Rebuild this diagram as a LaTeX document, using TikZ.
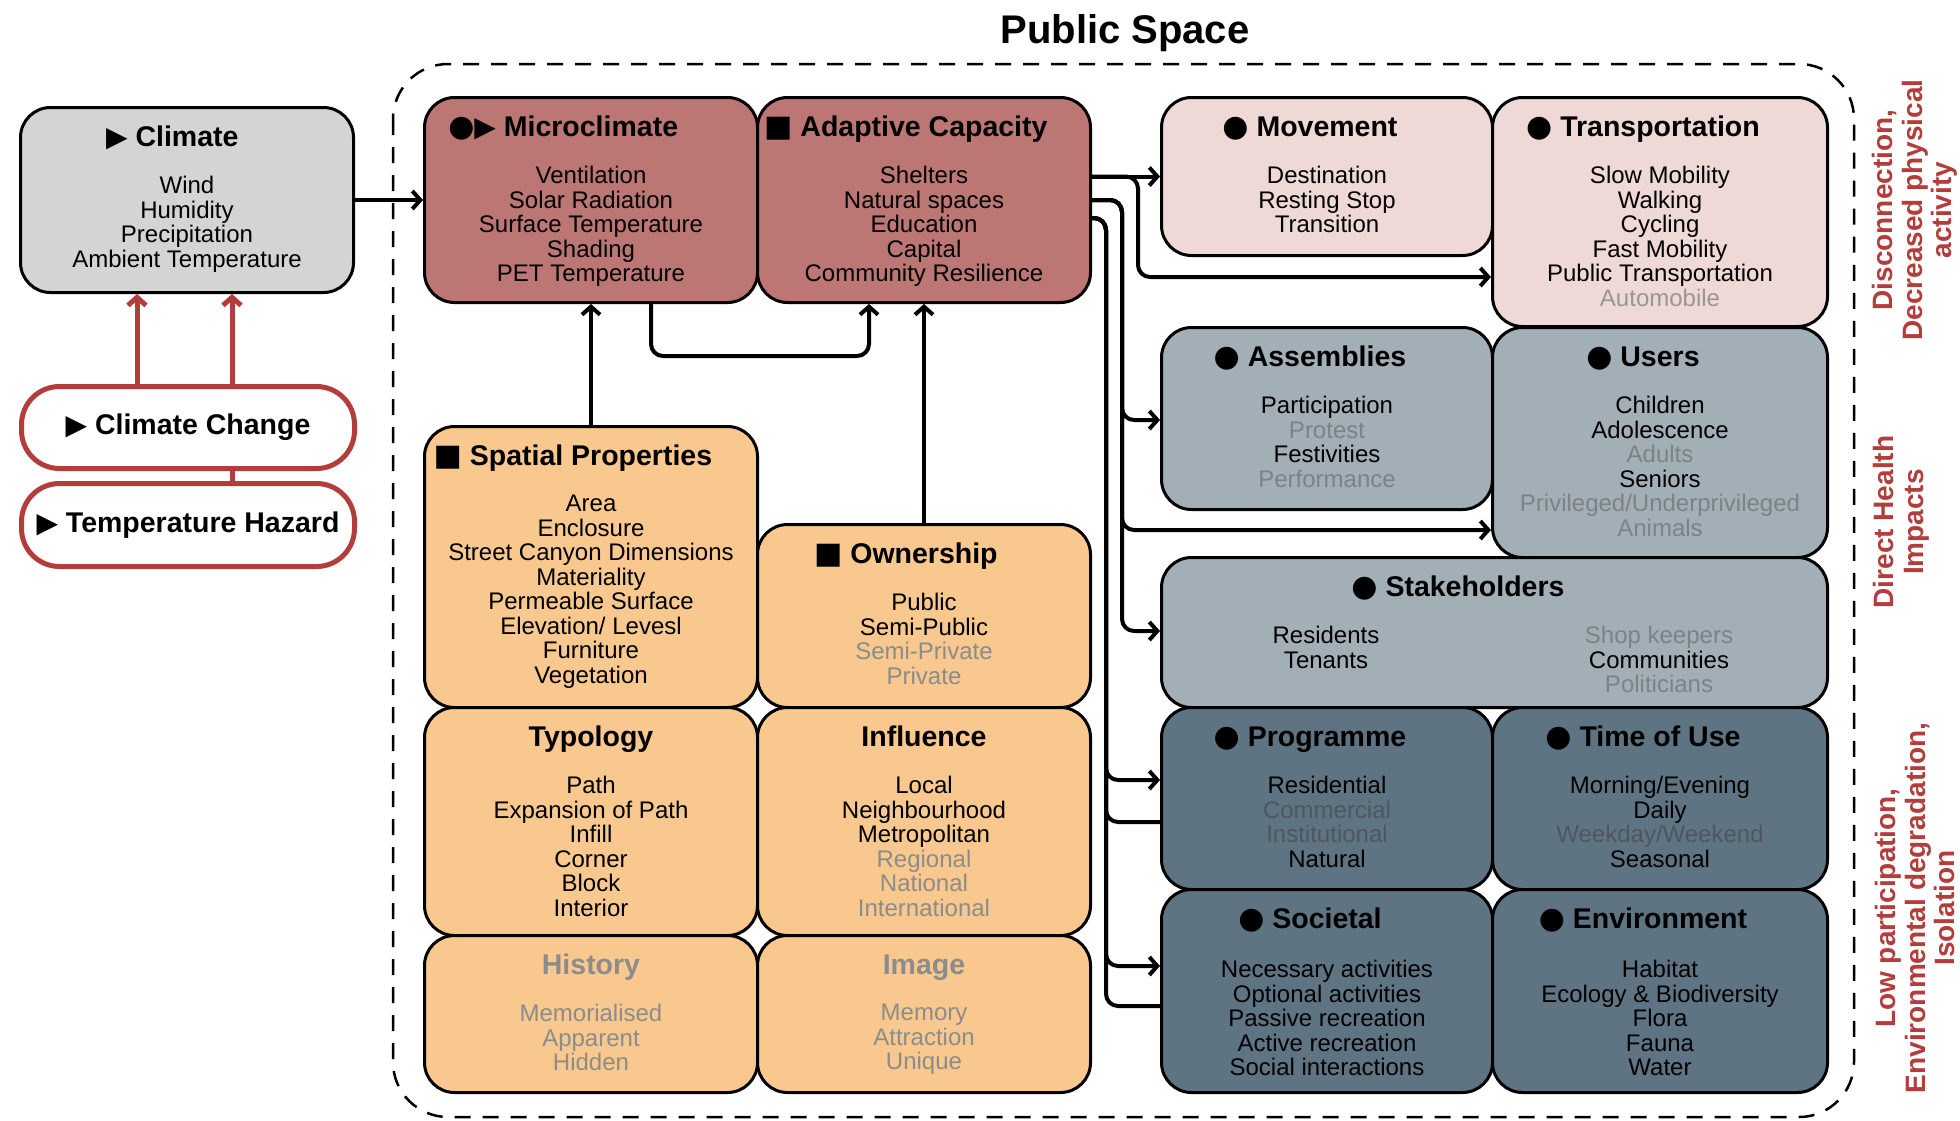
\documentclass[tikz,border=0pt]{standalone}
\usepackage{fontspec}
\setmainfont{Liberation Sans}
\newfontfamily\symfont{DejaVu Sans}
\usetikzlibrary{arrows.meta}
\definecolor{climategrey}{HTML}{D4D4D4}
\definecolor{hazardred}{HTML}{B23D3A}
\definecolor{microred}{HTML}{BC7774}
\definecolor{spatialorange}{HTML}{F8C88E}
\definecolor{movepink}{HTML}{EFD9D7}
\definecolor{usergrey}{HTML}{A3AFB7}
\definecolor{slate}{HTML}{5F7482}
\definecolor{fadeo}{HTML}{8C8C8C}
\definecolor{fadep}{HTML}{969696}
\definecolor{fadeg}{HTML}{7D8287}
\definecolor{fades}{HTML}{4F565D}
\newcommand{\hcirc}{{\symfont\fontsize{30}{30}\selectfont ●}}
\newcommand{\htri}{{\symfont\fontsize{28}{30}\selectfont ▶}}
\newcommand{\hsq}{{\symfont\fontsize{30}{30}\selectfont ■}}

\begin{document}
\begin{tikzpicture}[x=1pt,y=-1pt,
    box/.style={draw,line width=3pt,rounded corners=30pt,anchor=north west},
    hazard/.style={draw=hazardred,line width=5pt,rounded corners=38pt,fill=white,anchor=north west,
      minimum width=333pt,font=\fontsize{28.5}{30}\selectfont\bfseries},
    head/.style={font=\fontsize{28.5}{30}\selectfont\bfseries,anchor=mid,inner sep=0pt},
    body/.style={font=\fontsize{24}{24.5}\selectfont,align=center,anchor=north,inner sep=0pt},
    conn/.style={line width=4pt,rounded corners=12pt,-{Straight Barb[length=8pt,width=18pt]}},
    link/.style={line width=4pt,rounded corners=12pt},
    hazardarrow/.style={draw=hazardred,line width=5pt,-{Straight Barb[length=8pt,width=18pt]}},
    sidetext/.style={rotate=90,align=center,text=hazardred,font=\fontsize{28}{29.5}\selectfont\bfseries}]

  \useasboundingbox (0,0) rectangle (1960,1120);

  \node[font=\fontsize{40}{44}\selectfont\bfseries] (title) at (1125,33) {Public Space};
  \draw[line width=2.5pt,dash pattern=on 16pt off 12pt,rounded corners=55pt] (393,64) rectangle (1854,1117);

  % climate side
  \node[box,fill=climategrey,minimum width=333pt,minimum height=185pt] (climate) at (19,106) {};
  \node[head] (climate-h) at ([yshift=-38pt]climate.north) {\llap{\htri\ }Climate};
  \node[body] (climate-b) at ([yshift=-70pt]climate.north) {Wind\\Humidity\\Precipitation\\Ambient Temperature};

  \node[hazard,minimum height=82pt] (cchange) at (19,384) {\htri\ Climate Change};
  \node[hazard,minimum height=83pt] (thazard) at (19,481) {\htri\ Temperature Hazard};

  \draw[hazardarrow] (cchange.north -| 137,0) -- (climate.south -| 137,0);
  \draw[hazardarrow] (cchange.north -| 232,0) -- (climate.south -| 232,0);
  \draw[draw=hazardred,line width=5pt] (cchange.south -| 232,0) -- (thazard.north -| 232,0);

  % red boxes
  \node[box,fill=microred,minimum width=333pt,minimum height=205pt] (micro) at (423,96) {};
  \node[head] (micro-h) at ([yshift=-38pt]micro.north) {\llap{\hcirc\htri\ }Microclimate};
  \node[body] (micro-b) at ([yshift=-70pt]micro.north) {Ventilation\\Solar Radiation\\Surface Temperature\\Shading\\PET Temperature};

  \node[box,fill=microred,minimum width=333pt,minimum height=205pt] (adapt) at (756,96) {};
  \node[head] (adapt-h) at ([yshift=-38pt]adapt.north) {\llap{\hsq\ }Adaptive Capacity};
  \node[body] (adapt-b) at ([yshift=-70pt]adapt.north) {Shelters\\Natural spaces\\Education\\Capital\\Community Resilience};

  % orange boxes
  \node[box,fill=spatialorange,minimum width=333pt,minimum height=281pt] (spatial) at (423,425) {};
  \node[head] (spatial-h) at ([yshift=-38pt]spatial.north) {\llap{\hsq\ }Spatial Properties};
  \node[body] (spatial-b) at ([yshift=-70pt]spatial.north) {Area\\Enclosure\\Street Canyon Dimensions\\Materiality\\Permeable Surface\\Elevation/ Levesl\\Furniture\\Vegetation};

  \node[box,fill=spatialorange,minimum width=333pt,minimum height=183pt] (owner) at (756,523) {};
  \node[head] (owner-h) at ([yshift=-38pt]owner.north) {\llap{\hsq\ }Ownership};
  \node[body] (owner-b) at ([yshift=-70pt]owner.north) {Public\\Semi-Public\\\textcolor{fadeo}{Semi-Private}\\\textcolor{fadeo}{Private}};

  \node[box,fill=spatialorange,minimum width=333pt,minimum height=228pt] (typo) at (423,706) {};
  \node[head] (typo-h) at ([yshift=-38pt]typo.north) {Typology};
  \node[body] (typo-b) at ([yshift=-70pt]typo.north) {Path\\Expansion of Path\\Infill\\Corner\\Block\\Interior};

  \node[box,fill=spatialorange,minimum width=333pt,minimum height=228pt] (influ) at (756,706) {};
  \node[head] (influ-h) at ([yshift=-38pt]influ.north) {Influence};
  \node[body] (influ-b) at ([yshift=-70pt]influ.north) {Local\\Neighbourhood\\Metropolitan\\\textcolor{fadeo}{Regional}\\\textcolor{fadeo}{National}\\\textcolor{fadeo}{International}};

  \node[box,fill=spatialorange,minimum width=333pt,minimum height=157pt] (hist) at (423,934) {};
  \node[head,text=fadeo] (hist-h) at ([yshift=-38pt]hist.north) {History};
  \node[body,text=fadeo] (hist-b) at ([yshift=-70pt]hist.north) {Memorialised\\Apparent\\Hidden};

  \node[box,fill=spatialorange,minimum width=333pt,minimum height=157pt] (image) at (756,934) {};
  \node[head,text=fadeo] (image-h) at ([yshift=-38pt]image.north) {Image};
  \node[body,text=fadeo] (image-b) at ([yshift=-70pt]image.north) {Memory\\Attraction\\Unique};

  % right column
  \node[box,fill=movepink,minimum width=331pt,minimum height=158pt] (move) at (1160,96) {};
  \node[head] (move-h) at ([yshift=-38pt]move.north) {\llap{\hcirc\ }Movement};
  \node[body] (move-b) at ([yshift=-70pt]move.north) {Destination\\Resting Stop\\Transition};

  \node[box,fill=movepink,minimum width=335pt,minimum height=229pt] (trans) at (1491,96) {};
  \node[head] (trans-h) at ([yshift=-38pt]trans.north) {\llap{\hcirc\ }Transportation};
  \node[body] (trans-b) at ([yshift=-70pt]trans.north) {Slow Mobility\\Walking\\Cycling\\Fast Mobility\\Public Transportation\\\textcolor{fadep}{Automobile}};

  \node[box,fill=usergrey,minimum width=331pt,minimum height=182pt] (assem) at (1160,326) {};
  \node[head] (assem-h) at ([yshift=-38pt]assem.north) {\llap{\hcirc\ }Assemblies};
  \node[body] (assem-b) at ([yshift=-70pt]assem.north) {Participation\\\textcolor{fadeg}{Protest}\\Festivities\\\textcolor{fadeg}{Performance}};

  \node[box,fill=usergrey,minimum width=335pt,minimum height=230pt] (users) at (1491,326) {};
  \node[head] (users-h) at ([yshift=-38pt]users.north) {\llap{\hcirc\ }Users};
  \node[body] (users-b) at ([yshift=-70pt]users.north) {Children\\Adolescence\\\textcolor{fadeg}{Adults}\\Seniors\\\textcolor{fadeg}{Privileged/Underprivileged}\\\textcolor{fadeg}{Animals}};

  \node[box,fill=usergrey,minimum width=666pt,minimum height=150pt] (stake) at (1160,556) {};
  \node[head] (stake-h) at (1475,594) {\llap{\hcirc\ }Stakeholders};
  \node[body] (stake-l) at (1326,626) {Residents\\Tenants};
  \node[body] (stake-r) at (1659,626) {\textcolor{fadeg}{Shop keepers}\\Communities\\\textcolor{fadeg}{Politicians}};

  \node[box,fill=slate,minimum width=331pt,minimum height=182pt] (prog) at (1160,706) {};
  \node[head] (prog-h) at ([yshift=-38pt]prog.north) {\llap{\hcirc\ }Programme};
  \node[body] (prog-b) at ([yshift=-70pt]prog.north) {Residential\\\textcolor{fades}{Commercial}\\\textcolor{fades}{Institutional}\\Natural};

  \node[box,fill=slate,minimum width=335pt,minimum height=182pt] (time) at (1491,706) {};
  \node[head] (time-h) at ([yshift=-38pt]time.north) {\llap{\hcirc\ }Time of Use};
  \node[body] (time-b) at ([yshift=-70pt]time.north) {Morning/Evening\\Daily\\\textcolor{fades}{Weekday/Weekend}\\Seasonal};

  \node[box,fill=slate,minimum width=331pt,minimum height=203pt] (soc) at (1160,888) {};
  \node[head] (soc-h) at ([yshift=-38pt]soc.north) {\llap{\hcirc\ }Societal};
  \node[body] (soc-b) at ([yshift=-72pt]soc.north) {Necessary activities\\Optional activities\\Passive recreation\\Active recreation\\Social interactions};

  \node[box,fill=slate,minimum width=335pt,minimum height=203pt] (env) at (1491,888) {};
  \node[head] (env-h) at ([yshift=-38pt]env.north) {\llap{\hcirc\ }Environment};
  \node[body] (env-b) at ([yshift=-72pt]env.north) {Habitat\\Ecology \& Biodiversity\\Flora\\Fauna\\Water};

  % connectors
  \draw[conn] (climate.east) -- (micro.west);
  \draw[conn] (spatial.north) -- (micro.south);
  \draw[conn] (micro.south -| 651,0) -- (651,356) -- (869,356) -- (adapt.south -| 869,0);
  \draw[conn] (owner.north) -- (adapt.south);

  \draw[conn] (adapt.east |- move.west) -- (move.west);
  \draw[conn] (adapt.east |- move.west) -| (1138,277) -- (trans.west |- 0,277);
  \draw[conn] (adapt.east) -| (1122,420) -- (assem.west |- 0,420);
  \draw[conn] (adapt.east) -| (1122,530) -- (users.west |- 0,530);
  \draw[conn] (adapt.east) -| (1122,631) -- (stake.west |- 0,631);
  \draw[conn] ([yshift=-18pt]adapt.east) -| (1106,780) -- (prog.west |- 0,780);
  \draw[link] ([yshift=-18pt]adapt.east) -| (1106,822) -- (prog.west |- 0,822);
  \draw[conn] ([yshift=-18pt]adapt.east) -| (1106,966) -- (soc.west |- 0,966);
  \draw[link] ([yshift=-18pt]adapt.east) -| (1106,1006) -- (soc.west |- 0,1006);

  % impacts
  \node[sidetext] (disc) at (1915,210) {Disconnection,\\Decreased physical\\activity};
  \node[sidetext] (health) at (1901,522) {Direct Health\\Impacts};
  \node[sidetext] (lowpart) at (1915,908) {Low participation,\\Environmental degradation,\\Isolation};
\end{tikzpicture}
\end{document}
